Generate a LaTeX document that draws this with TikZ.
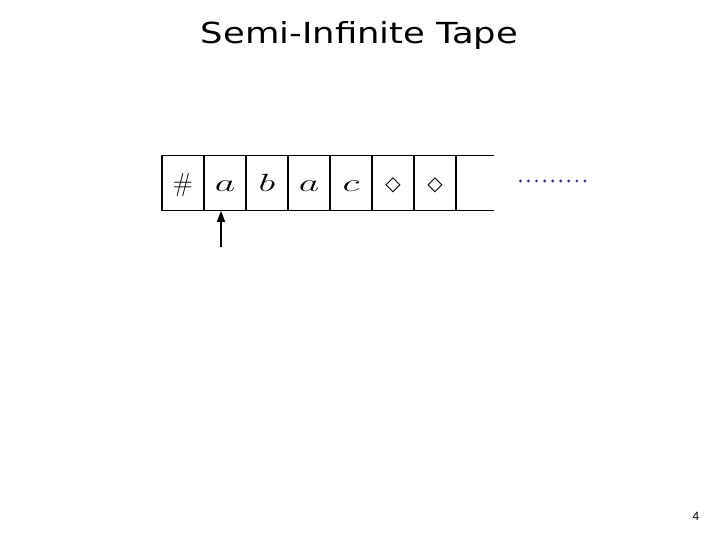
\documentclass[tikz,border=0pt]{standalone}
\usepackage{fontspec}
\usetikzlibrary{arrows.meta}
\newfontfamily\titlefont{DejaVu Sans}
\newfontfamily\numfont{Liberation Sans}
\definecolor{dotblue}{RGB}{61,58,140}

\tikzstyle{cell} = [draw=black,line width=1.2pt,rectangle,minimum width=42pt,minimum height=54.5pt,inner sep=0pt,text height=20pt,text depth=2pt,font=\fontsize{26}{26}\selectfont]
\newcommand{\wide}[1]{\scalebox{1.6}[1]{$#1$}}
\newcommand{\blank}{{\titlefont\fontsize{20}{20}\selectfont\raisebox{1pt}{◇}}}

\begin{document}
\begin{tikzpicture}[x=1pt,y=-1pt,node distance=42pt]
	\useasboundingbox (0,0) rectangle (720,540);
	\node (title) at (359.5,36) {\titlefont\fontsize{29}{29}\selectfont\scalebox{1.22}[1]{Semi-Infinite Tape}};
	\node (c0) [cell] at (183,183) {$\#$};
	\node (c1) [cell,right of=c0] {\wide{a}};
	\node (c2) [cell,right of=c1] {\wide{b}};
	\node (c3) [cell,right of=c2] {\wide{a}};
	\node (c4) [cell,right of=c3] {\wide{c}};
	\node (c5) [cell,right of=c4] {\blank};
	\node (c6) [cell,right of=c5] {\blank};
	\coordinate (topend) at ([xshift=37pt]c6.north east);
	\coordinate (botend) at ([xshift=37pt]c6.south east);
	\draw [line width=1.2pt] (c6.north east) -- (topend);
	\draw [line width=1.2pt] (c6.south east) -- (botend);
	\foreach \i in {0,...,8}
		\fill [dotblue] (520.5+8.05*\i,181) circle (1.6pt);
	\coordinate (head) at (221,247);
	\draw [line width=1.8pt,-{Triangle[width=8pt,length=11pt]}] (head) -- (head |- c1.south);
	\node (pagenum) at (696,516) {\numfont\fontsize{12}{12}\selectfont 4};
\end{tikzpicture}
\end{document}
